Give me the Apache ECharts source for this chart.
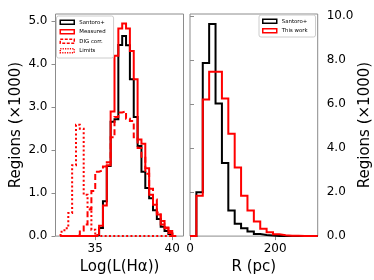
<!DOCTYPE html>
<html><head><meta charset="utf-8">
<script src="https://cdn.jsdelivr.net/npm/echarts@6/dist/echarts.min.js"></script>
<style>html,body{margin:0;padding:0;background:#fff}#c{width:374px;height:280px}</style>
</head><body><div id="c"></div>
<script>
// ---- Left panel: Log(L(Halpha)) histograms, bin edges (dex) ----
const lumEdges = [32.75,33.0,33.25,33.5,33.75,34.0,34.25,34.5,34.75,35.0,35.25,35.5,35.75,36.0,36.25,36.5,36.75,37.0,37.25,37.5,37.75,38.0,38.25,38.5,38.75,39.0,39.25,39.5,39.75,40.0,40.25];
// counts in thousands, one per bin
const lumSantoro = [0,0,0,0,0,0,0,0,0,0.02,0.19,0.81,1.63,2.66,2.72,4.45,4.66,4.44,3.65,2.77,2.1,1.5,1.12,0.88,0.6,0.4,0.22,0.12,0.05,0];
const lumMeasured = [0,0,0,0,0,0,0,0,0,0.04,0.24,0.71,1.65,2.9,4.2,4.83,4.95,4.83,4.31,3.65,2.25,2.15,1.58,0.96,0.73,0.5,0.27,0.2,0.12,0];
const lumDIG = [0,0,0,0,0.02,0.13,0.27,0.62,1.05,1.5,1.53,1.62,1.72,2.3,2.77,2.88,2.9,2.73,2.68,2.3,2.05,1.85,1.45,1.1,0.85,0.55,0.35,0.18,0.07,0];
const lumLimits = [0.1,0.18,0.54,1.65,2.59,2.5,0.96,0.65,0.15,0,0,0,0,0,0,0,0,0,0,0,0,0,0,0,0,0,0,0,0,0];
const lumTicks = [35, 40];
const lumCountTicks = [0, 1, 2, 3, 4, 5];

// ---- Right panel: R (pc) histograms ----
const sizeEdges = [0,15,30,45,60,75,90,105,120,135,150,165,180,195,210,225,240,255,270,285,300];
const sizeSantoro = [0,1.99,7.87,9.65,6.03,3.32,1.16,0.56,0.36,0.21,0.1,0.05,0.03,0.01,0,0,0,0,0,0];
const sizeThisWork = [0,1.84,6.21,7.47,7.47,6.26,4.66,3.12,1.84,1.16,0.66,0.33,0.18,0.08,0.04,0.02,0.02,0.01,0.01,0.01];
const sizeTicks = [0, 200];
const sizeCountTicks = [0, 2, 4, 6, 8, 10];

function stepData(edges, vals) {
  const d = [[edges[0], 0]];
  for (let i = 0; i < vals.length; i++) d.push([edges[i], vals[i]]);
  d.push([edges[vals.length], 0]);
  return d;
}

const FONT = 'DejaVu Sans';
const GRAY = '#8c8c8c';
const RED = '#ff0000';

function lineSeries(name, xi, data, color, type) {
  return {
    type: 'line', name: name, xAxisIndex: xi, yAxisIndex: xi,
    data: data, step: 'end', showSymbol: false, symbol: 'none',
    silent: true, animation: false, clip: true,
    lineStyle: { color: color, width: 2, type: type, cap: 'butt', join: 'miter' },
    itemStyle: { color: color }
  };
}

function legendItem(name, color, bt) {
  return { name: name, icon: 'rect',
    itemStyle: { color: 'rgba(0,0,0,0)', borderColor: color, borderWidth: 1.5, borderType: bt } };
}

const axisTitleStyle = { fontFamily: FONT, fontSize: 15, color: '#000' };
const tickLabelStyle = { fontFamily: FONT, fontSize: 12, color: '#000' };

const chart = echarts.init(document.getElementById('c'), null, { renderer: 'canvas' });
chart.setOption({
  animation: false,
  backgroundColor: '#fff',
  grid: [
    { left: 55.5, top: 14, width: 128, height: 224, show: true, borderColor: GRAY, borderWidth: 1, backgroundColor: 'transparent' },
    { left: 190, top: 14, width: 127.7, height: 224, show: true, borderColor: GRAY, borderWidth: 1, backgroundColor: 'transparent' }
  ],
  xAxis: [
    { type: 'value', gridIndex: 0, min: 32.42, max: 40.73,
      name: 'Log(L(Hα))', nameLocation: 'middle', nameGap: 21, nameTextStyle: axisTitleStyle,
      axisLine: { show: false }, splitLine: { show: false },
      axisTick: { show: true, length: 4, lineStyle: { color: GRAY }, customValues: lumTicks },
      axisLabel: { customValues: lumTicks, margin: 7, ...tickLabelStyle, formatter: v => String(v) } },
    { type: 'value', gridIndex: 1, min: 0, max: 300,
      name: 'R (pc)', nameLocation: 'middle', nameGap: 21, nameTextStyle: axisTitleStyle,
      axisLine: { show: false }, splitLine: { show: false },
      axisTick: { show: true, length: 4, lineStyle: { color: GRAY }, customValues: sizeTicks },
      axisLabel: { customValues: sizeTicks, margin: 7, ...tickLabelStyle, formatter: v => String(v) } }
  ],
  yAxis: [
    { type: 'value', gridIndex: 0, min: 0, max: 5.17,
      name: 'Regions (×1000)', nameLocation: 'middle', nameGap: 32, nameRotate: 90, nameTextStyle: axisTitleStyle,
      axisLine: { show: false }, splitLine: { show: false },
      axisTick: { show: true, length: 4, lineStyle: { color: GRAY }, customValues: lumCountTicks },
      axisLabel: { customValues: lumCountTicks, margin: 8, ...tickLabelStyle, formatter: v => v.toFixed(1) } },
    { type: 'value', gridIndex: 1, position: 'right', min: 0, max: 10.1,
      name: 'Regions (×1000)', nameLocation: 'middle', nameGap: 40, nameRotate: 90, nameTextStyle: axisTitleStyle,
      axisLine: { show: false }, splitLine: { show: false },
      axisTick: { show: true, length: 4, lineStyle: { color: GRAY }, customValues: sizeCountTicks },
      axisLabel: { customValues: sizeCountTicks, margin: 9, ...tickLabelStyle, formatter: v => v.toFixed(1) } }
  ],
  legend: [
    { orient: 'vertical', left: 56.5, top: 16, itemWidth: 14, itemHeight: 4, itemGap: 3,
      padding: [3, 8, 4, 3], borderColor: '#cccccc', borderWidth: 1, borderRadius: 2,
      backgroundColor: 'rgba(255,255,255,0.8)', selectedMode: false,
      textStyle: { fontFamily: FONT, fontSize: 5.4, lineHeight: 6.5, color: '#000' },
      data: [legendItem('Santoro+', '#000', 'solid'), legendItem('Measured', RED, 'solid'),
             legendItem('DIG corr.', RED, [3, 1.5]), legendItem('Limits', RED, [1.2, 1.2])] },
    { orient: 'vertical', left: 259, top: 15, itemWidth: 14, itemHeight: 4, itemGap: 3,
      padding: [3, 8, 3, 3], borderColor: '#cccccc', borderWidth: 1, borderRadius: 2,
      backgroundColor: 'rgba(255,255,255,0.8)', selectedMode: false,
      textStyle: { fontFamily: FONT, fontSize: 5.4, lineHeight: 6.5, color: '#000' },
      data: [legendItem('Santoro+', '#000', 'solid'), legendItem('This work', RED, 'solid')] }
  ],
  series: [
    lineSeries('Santoro+', 0, stepData(lumEdges, lumSantoro), '#000', 'solid'),
    lineSeries('Measured', 0, stepData(lumEdges, lumMeasured), RED, 'solid'),
    lineSeries('DIG corr.', 0, stepData(lumEdges, lumDIG), RED, [6, 3]),
    lineSeries('Limits', 0, stepData(lumEdges, lumLimits), RED, [2, 2.3]),
    lineSeries('Santoro+', 1, stepData(sizeEdges, sizeSantoro), '#000', 'solid'),
    lineSeries('This work', 1, stepData(sizeEdges, sizeThisWork), RED, 'solid')
  ]
});
</script></body></html>
